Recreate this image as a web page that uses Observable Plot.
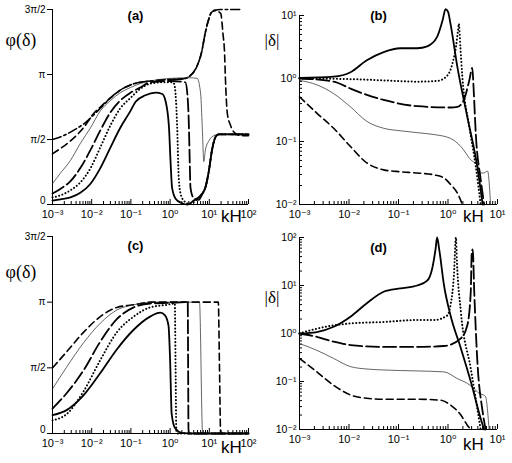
<!DOCTYPE html>
<html><head><meta charset="utf-8">
<script src="https://cdn.jsdelivr.net/npm/d3@7"></script>
<script src="https://cdn.jsdelivr.net/npm/@observablehq/plot@0.6"></script>
<style>
body{margin:0;background:#fff;}
#wrap{position:relative;width:512px;height:463px;overflow:hidden;font-family:"Liberation Sans",Arial,sans-serif;}
.p{position:absolute;}
.p svg{overflow:visible;}
</style></head><body><div id="wrap"></div>
<script>
// ---------- tick values and labels ----------
const xTicksWide = [1e-3, 1e-2, 1e-1, 1, 10, 100];
const xLabelsWide = ["10⁻³", "10⁻²", "10⁻¹", "10⁰", "10¹", "10²"];
const xTicksNarrow = [1e-3, 1e-2, 1e-1, 1, 10];
const xLabelsNarrow = ["10⁻³", "10⁻²", "10⁻¹", "10⁰", "10¹"];
const phaseTicks = [0, 0.5, 1, 1.5];            // in units of π
const phaseLabels = ["0", "π/2", "π", "3π/2"];
const magTicksB = [1e-2, 1e-1, 1, 10];
const magLabelsB = ["10⁻²", "10⁻¹", "10⁰", "10¹"];
const magTicksD = [1e-2, 1e-1, 1, 10, 100];
const magLabelsD = ["10⁻²", "10⁻¹", "10⁰", "10¹", "10²"];

// ---------- data: [log10(kH), value] ----------
// (a) phase φ(δ)/π
const a_solid = [[-3,0.03],[-2.80,0.04],[-2.54,0.055],[-2.29,0.09],[-2.03,0.16],[-1.78,0.28],[-1.52,0.44],[-1.27,0.59],[-1.01,0.72],[-0.88,0.79],[-0.63,0.84],[-0.37,0.86],[-0.2,0.85],[-0.12,0.8],[-0.03,0.6],[0.01,0.34],[0.05,0.13],[0.14,0.045],[0.3,0.01],[0.45,0],[0.6,0.03],[0.78,0.07],[0.9,0.13],[0.99,0.26],[1.07,0.42],[1.16,0.52],[1.24,0.54],[2.0,0.54]];
const a_dotted = [[-3,0.055],[-2.80,0.07],[-2.54,0.11],[-2.29,0.17],[-2.03,0.28],[-1.78,0.44],[-1.52,0.61],[-1.27,0.74],[-1.01,0.82],[-0.76,0.89],[-0.5,0.93],[-0.2,0.94],[0.05,0.94],[0.1,0.93],[0.14,0.85],[0.18,0.6],[0.22,0.21],[0.27,0.08],[0.35,0.03],[0.48,0.005],[0.6,0.02],[0.78,0.07],[0.9,0.13],[0.99,0.26],[1.07,0.42],[1.16,0.52],[1.24,0.54],[2.0,0.54]];
const a_longdash = [[-3,0.085],[-2.80,0.12],[-2.54,0.18],[-2.29,0.28],[-2.03,0.42],[-1.78,0.57],[-1.52,0.71],[-1.27,0.8],[-1.01,0.86],[-0.76,0.9],[-0.5,0.94],[0,0.95],[0.39,0.94],[0.44,0.85],[0.48,0.6],[0.5,0.34],[0.52,0.13],[0.6,0.05],[0.73,0.036],[0.82,0.08],[0.9,0.13],[0.99,0.26],[1.07,0.42],[1.16,0.52],[1.24,0.54],[2.0,0.54]];
const a_thin = [[-3,0.16],[-2.80,0.24],[-2.54,0.34],[-2.29,0.47],[-2.03,0.59],[-1.78,0.72],[-1.52,0.8],[-1.27,0.86],[-1.01,0.9],[-0.76,0.93],[-0.5,0.95],[0,0.97],[0.5,0.975],[0.69,0.97],[0.78,0.85],[0.82,0.6],[0.86,0.33],[0.9,0.42],[0.99,0.49],[1.12,0.53],[1.24,0.54],[2.0,0.54]];
const a_dashdot = [[-3,0.5],[-2.72,0.53],[-2.41,0.58],[-2.16,0.63],[-1.98,0.68],[-1.78,0.74],[-1.52,0.82],[-1.27,0.88],[-1.01,0.92],[-0.76,0.94],[-0.5,0.95],[-0.08,0.96],[0.34,0.967],[0.51,0.99],[0.68,1.06],[0.81,1.18],[0.89,1.31],[0.98,1.42],[1.06,1.48],[1.15,1.495],[1.28,1.5],[1.84,1.5]];
const a_dash = [[-3,0.39],[-2.8,0.43],[-2.54,0.49],[-2.21,0.59],[-1.95,0.7],[-1.78,0.75],[-1.52,0.82],[-1.27,0.88],[-1.01,0.92],[-0.76,0.94],[-0.5,0.95],[-0.08,0.96],[0.34,0.967],[0.51,0.99],[0.68,1.06],[0.81,1.18],[0.89,1.31],[0.98,1.42],[1.06,1.48],[1.16,1.49],[1.29,1.47],[1.35,1.31],[1.39,1.16],[1.41,0.98],[1.46,0.7],[1.54,0.61],[1.62,0.56],[1.8,0.53],[2.0,0.53]];

// (b) log10 |δ|
const b_solid = [[-3,0.01],[-2.31,0.03],[-1.97,0.1],[-1.64,0.29],[-1.3,0.42],[-0.96,0.48],[-0.62,0.48],[-0.42,0.51],[-0.22,0.66],[-0.11,0.92],[-0.05,1.1],[0.0,1.06],[0.05,0.87],[0.19,0.18],[0.39,-0.61],[0.59,-1.39],[0.7,-2.0]];
const b_dotted = [[-3,0],[-1.97,-0.01],[-1.3,-0.03],[-0.62,-0.05],[-0.22,-0.04],[-0.01,0.05],[0.09,0.24],[0.16,0.5],[0.2,0.75],[0.22,0.87],[0.25,0.5],[0.29,0.03],[0.43,-0.76],[0.56,-1.39],[0.66,-2.0]];
const b_longdash = [[-3,0],[-2.31,-0.05],[-1.97,-0.16],[-1.64,-0.26],[-1.3,-0.34],[-0.62,-0.44],[0.05,-0.46],[0.19,-0.45],[0.32,-0.34],[0.43,-0.03],[0.49,0.17],[0.52,-0.2],[0.56,-0.86],[0.66,-1.6],[0.73,-2.0]];
const b_thin = [[-3,-0.03],[-2.65,-0.1],[-2.31,-0.24],[-1.97,-0.45],[-1.64,-0.68],[-1.3,-0.79],[-0.96,-0.83],[-0.62,-0.86],[-0.28,-0.89],[0.05,-0.95],[0.26,-1.08],[0.46,-1.29],[0.6,-1.39],[0.66,-1.5],[0.72,-1.5],[0.8,-1.47],[0.86,-2.0]];
const b_dash = [[-3,-0.29],[-2.65,-0.55],[-2.31,-0.79],[-1.97,-1.08],[-1.64,-1.34],[-1.3,-1.45],[-0.96,-1.48],[-0.62,-1.5],[-0.28,-1.53],[-0.08,-1.58],[0.05,-1.68],[0.19,-1.82],[0.29,-2.0]];

// (c) phase φ(δ)/π
const c_solid = [[-3,0.14],[-2.63,0.18],[-2.21,0.29],[-1.78,0.46],[-1.36,0.64],[-0.93,0.79],[-0.51,0.89],[-0.25,0.92],[-0.13,0.9],[-0.04,0.82],[0,0.56],[0.04,0.15],[0.13,0.04],[0.3,0.005],[0.6,0],[2,0]];
const c_dotted = [[-3,0.1],[-2.63,0.15],[-2.21,0.32],[-1.78,0.56],[-1.36,0.77],[-0.93,0.89],[-0.51,0.96],[-0.08,0.98],[0.12,0.99],[0.14,0.5],[0.16,0.01],[0.2,0],[2,0]];
const c_longdash = [[-3,0.19],[-2.63,0.31],[-2.21,0.48],[-1.78,0.7],[-1.36,0.87],[-0.93,0.96],[-0.51,0.99],[0,0.995],[0.45,1.0],[0.46,0.5],[0.47,0],[2,0]];
const c_thin = [[-3,0.34],[-2.63,0.51],[-2.21,0.69],[-1.78,0.84],[-1.36,0.94],[-0.93,0.98],[-0.5,1.0],[0.75,1.0],[0.83,0],[2,0]];
const c_dash = [[-3,0.5],[-2.63,0.625],[-2.21,0.77],[-1.78,0.89],[-1.36,0.96],[-0.93,0.98],[-0.5,1.0],[1.23,1.0],[1.26,0.5],[1.29,0],[2,0]];

// (d) log10 |δ|
const d_solid = [[-3,0],[-2.65,0.03],[-2.31,0.14],[-1.97,0.35],[-1.64,0.63],[-1.3,0.87],[-0.96,0.94],[-0.62,1.0],[-0.42,1.1],[-0.32,1.35],[-0.25,1.77],[-0.22,2.0],[-0.18,1.77],[-0.08,1.0],[0.05,0.38],[0.26,-0.31],[0.46,-1.0],[0.66,-1.77],[0.73,-2.0]];
const d_dotted = [[-3,0],[-2.65,0.1],[-2.31,0.17],[-1.97,0.21],[-1.3,0.24],[-0.62,0.28],[-0.28,0.28],[-0.01,0.38],[0.05,0.59],[0.12,1.22],[0.16,2.0],[0.18,1.5],[0.26,0.45],[0.46,-0.73],[0.66,-2.0]];
const d_longdash = [[-3,0],[-2.65,-0.07],[-2.31,-0.17],[-1.97,-0.24],[-1.3,-0.28],[-0.62,-0.28],[-0.08,-0.26],[0.26,-0.1],[0.39,0.17],[0.46,0.87],[0.48,1.7],[0.5,1.75],[0.53,0.87],[0.59,-0.52],[0.7,-1.63],[0.76,-2.0]];
const d_thin = [[-3,-0.21],[-2.65,-0.35],[-2.31,-0.52],[-1.97,-0.69],[-1.64,-0.74],[-1.3,-0.76],[-0.62,-0.78],[-0.08,-0.8],[0.19,-0.94],[0.39,-1.04],[0.53,-1.15],[0.63,-1.25],[0.72,-1.28],[0.76,-1.32],[0.83,-2.0]];
const d_dash = [[-3,-0.52],[-2.65,-0.8],[-2.31,-1.08],[-1.97,-1.28],[-1.64,-1.35],[-1.3,-1.37],[-0.62,-1.37],[-0.15,-1.39],[0.05,-1.49],[0.26,-1.7],[0.39,-1.91],[0.46,-2.0]];

// ---------- line styles ----------
const styles = {
  solid:    {strokeWidth: 1.8},
  dotted:   {strokeWidth: 2, strokeDasharray: "0.1,3.3", strokeLinecap: "round"},
  longdash: {strokeWidth: 1.8, strokeDasharray: "13,4"},
  thin:     {strokeWidth: 0.7},
  dash:     {strokeWidth: 1.6, strokeDasharray: "7,4"},
  dashdot:  {strokeWidth: 1.6, strokeDasharray: "9,3,2.5,3"}
};

function minorTicks(lo, hi) {
  const out = [];
  for (let e = lo; e < hi; e++) for (let m = 2; m <= 9; m++) out.push(m * 10 ** e);
  return out;
}

function panel(o) {
  const toX = d => 10 ** d[0];
  const toY = o.log ? (d => 10 ** d[1]) : (d => d[1]);
  const xMap = new Map(o.xTicks.map((t, i) => [t, o.xLabels[i]]));
  const yMap = new Map(o.yTicks.map((t, i) => [t, o.yLabels[i]]));
  const marks = [
    Plot.ruleX([o.xDomain[0]], {stroke: "#000", strokeWidth: 1}),
    Plot.ruleY([o.yDomain[0]], {stroke: "#000", strokeWidth: 1}),
    Plot.axisX({ticks: minorTicks(Math.log10(o.xDomain[0]), Math.log10(o.xDomain[1])), tickSize: -3, fill: "none", label: null}),
    Plot.axisX({ticks: o.xTicks, tickSize: -5, fill: "none", label: null}),
    Plot.axisX({ticks: o.xTicks, tickSize: 0, tickPadding: 6, tickFormat: d => xMap.get(d), label: null, fontSize: 11})
  ];
  if (o.log) {
    marks.push(
      Plot.axisY({ticks: minorTicks(Math.log10(o.yDomain[0]), Math.log10(o.yDomain[1])), tickSize: -3, fill: "none", label: null}),
      Plot.axisY({ticks: o.yTicks, tickSize: -5, fill: "none", label: null}),
      Plot.axisY({ticks: o.yTicks, tickSize: 0, tickPadding: 3, tickFormat: d => yMap.get(d), label: null, fontSize: 10.5})
    );
  } else {
    marks.push(
      Plot.axisY({ticks: o.yTicks, tickSize: 5, fill: "none", label: null}),
      Plot.axisY({ticks: o.yTicks.slice(1), tickSize: 0, tickPadding: 7, tickFormat: d => yMap.get(d), label: null, fontSize: 10}),
      Plot.axisY({ticks: o.yTicks.slice(0, 1), tickSize: 0, tickPadding: 7, dy: -4, tickFormat: d => yMap.get(d), label: null, fontSize: 10})
    );
  }
  for (const [data, key] of o.curves) {
    marks.push(Plot.line(data, {x: toX, y: toY, stroke: key === "thin" ? "#222" : "#000", curve: "monotone-x", ...styles[key]}));
  }
  marks.push(
    Plot.text([o.title], {text: d => d, frameAnchor: "top-left", dx: o.titlePos[0], dy: o.titlePos[1], textAnchor: "middle", lineAnchor: "middle", fontWeight: "bold", fontSize: 13}),
    Plot.text([o.ylab], {text: d => d, frameAnchor: "top-left", dx: o.ylabPos[0], dy: o.ylabPos[1], textAnchor: "start", lineAnchor: "middle", fontSize: o.ylabSize, fontFamily: "Liberation Serif, DejaVu Serif, serif"}),
    Plot.text(["kH"], {text: d => d, frameAnchor: "bottom-right", dx: o.khPos[0], dy: o.khPos[1], textAnchor: "middle", lineAnchor: "middle", fontSize: 17})
  );
  const svg = Plot.plot({
    width: o.width, height: o.height,
    marginLeft: o.m[0], marginRight: o.m[1], marginTop: o.m[2], marginBottom: o.m[3],
    x: {type: "log", domain: o.xDomain},
    y: o.log ? {type: "log", domain: o.yDomain} : {type: "linear", domain: o.yDomain},
    style: {background: "transparent", fontFamily: "Liberation Sans, DejaVu Sans, sans-serif", color: "#000", overflow: "visible"},
    marks
  });
  const div = document.createElement("div");
  div.className = "p";
  div.style.left = o.left + "px";
  div.style.top = o.top + "px";
  div.appendChild(svg);
  document.getElementById("wrap").appendChild(div);
}

panel({
  left: 0, top: 0, width: 256, height: 230, m: [52, 8, 9, 26],
  xDomain: [1e-3, 1e2], xTicks: xTicksWide, xLabels: xLabelsWide,
  yDomain: [0, 1.5], yTicks: phaseTicks, yLabels: phaseLabels, log: false,
  curves: [[a_dash, "dash"], [a_dashdot, "dashdot"], [a_thin, "thin"], [a_longdash, "longdash"], [a_dotted, "dotted"], [a_solid, "solid"]],
  title: "(a)", titlePos: [83, 6], ylab: "φ(δ)", ylabSize: 18, ylabPos: [-47, 31], khPos: [-17, 12]
});
panel({
  left: 250, top: 0, width: 256, height: 230, m: [49, 9, 15, 26],
  xDomain: [1e-3, 1e1], xTicks: xTicksNarrow, xLabels: xLabelsNarrow,
  yDomain: [1e-2, 1e1], yTicks: magTicksB, yLabels: magLabelsB, log: true,
  curves: [[b_dash, "dash"], [b_thin, "thin"], [b_longdash, "longdash"], [b_dotted, "dotted"], [b_solid, "solid"]],
  title: "(b)", titlePos: [79, 0], ylab: "|δ|", ylabSize: 17, ylabPos: [-35, 25], khPos: [-24, 12]
});
panel({
  left: 0, top: 227, width: 256, height: 232, m: [52, 8, 9, 26],
  xDomain: [1e-3, 1e2], xTicks: xTicksWide, xLabels: xLabelsWide,
  yDomain: [0, 1.5], yTicks: phaseTicks, yLabels: phaseLabels, log: false,
  curves: [[c_dash, "dash"], [c_thin, "thin"], [c_longdash, "longdash"], [c_dotted, "dotted"], [c_solid, "solid"]],
  title: "(c)", titlePos: [83, 9], ylab: "φ(δ)", ylabSize: 18, ylabPos: [-47, 36], khPos: [-17, 14]
});
panel({
  left: 250, top: 225, width: 256, height: 230, m: [49, 9, 12, 26],
  xDomain: [1e-3, 1e1], xTicks: xTicksNarrow, xLabels: xLabelsNarrow,
  yDomain: [1e-2, 1e2], yTicks: magTicksD, yLabels: magLabelsD, log: true,
  curves: [[d_dash, "dash"], [d_thin, "thin"], [d_longdash, "longdash"], [d_dotted, "dotted"], [d_solid, "solid"]],
  title: "(d)", titlePos: [79, 10], ylab: "|δ|", ylabSize: 17, ylabPos: [-35, 60], khPos: [-24, 15]
});
</script></body></html>
